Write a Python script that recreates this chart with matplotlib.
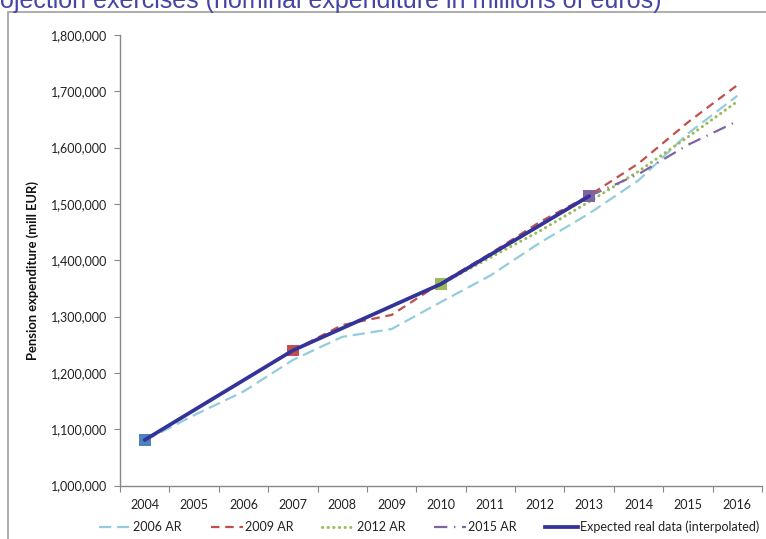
import numpy as np
import matplotlib
matplotlib.use("Agg")
import matplotlib.pyplot as plt
from matplotlib.lines import Line2D
from matplotlib.patches import Rectangle
from matplotlib.ticker import FuncFormatter

plt.rcParams['font.family'] = ['Lato', 'DejaVu Sans']

years = list(range(2004, 2017))
ar2006 = [1080000, 1125000, 1167000, 1223000, 1264000, 1278000, 1326000,
          1373000, 1431000, 1483000, 1542000, 1625000, 1692000]
ar2009_years = list(range(2007, 2017))
ar2009 = [1240000, 1285000, 1303000, 1360000, 1412000, 1468000, 1515000,
          1572000, 1645000, 1711000]
ar2012_years = list(range(2010, 2017))
ar2012 = [1358000, 1405000, 1452000, 1504000, 1558000, 1619000, 1682000]
ar2015_years = list(range(2013, 2017))
ar2015 = [1514000, 1553000, 1605000, 1647000]
real_years = [2004, 2007, 2010, 2013]
real = [1081000, 1240000, 1358000, 1514000]
marker_colors = ['#4F81BD', '#C0504D', '#9BBB59', '#8064A2']

series_labels = ['2006 AR', '2009 AR', '2012 AR', '2015 AR',
                 'Expected real data (interpolated)']
title = 'Projection exercises (nominal expenditure in millions of euros)'
ylabel = 'Pension expenditure (mill EUR)'

W, H = 766, 539
fig = plt.figure(figsize=(W / 100, H / 100), dpi=100)
ax = fig.add_axes([120 / W, 1 - 485.6 / H, (762 - 120) / W, (485.6 - 35) / H])

def xi(ys):
    return [y - 2004 for y in ys]

c06, c09, c12, c15, creal = '#93CDDD', '#C0504D', '#9BBB59', '#8064A2', '#333399'
st06 = dict(color=c06, lw=1.6, dashes=(5.5, 2.6))
st09 = dict(color=c09, lw=1.6, dashes=(3.8, 2.6))
st12 = dict(color=c12, lw=2.2, dashes=(0.05, 1.8), dash_capstyle='round')
st15 = dict(color=c15, lw=1.6, dashes=(6, 3, 0.6, 3))
streal = dict(color=creal, lw=2.7)

ax.plot(xi(years), ar2006, zorder=3, **st06)
ax.plot(xi(ar2009_years), ar2009, zorder=3, **st09)
ax.plot(xi(ar2012_years), ar2012, zorder=3, **st12)
ax.plot(xi(ar2015_years), ar2015, zorder=3, **st15)
ax.scatter(xi(real_years), real, marker='s', s=72, c=marker_colors,
           zorder=4, linewidths=0)
ax.plot(xi(real_years), real, zorder=5, solid_capstyle='round', **streal)

ax.set_xlim(-0.5, 12.5)
ax.set_ylim(1000000, 1800000)
ax.set_yticks(np.arange(1000000, 1800001, 100000))
ax.yaxis.set_major_formatter(FuncFormatter(lambda v, p: f'{int(v):,}'))
ax.set_xticks(np.arange(-0.5, 13, 1))
ax.set_xticklabels([])
ax.set_xticks(range(len(years)), minor=True)
ax.set_xticklabels([str(y) for y in years], minor=True)
ax.tick_params(axis='x', which='minor', length=0, pad=10, labelsize=9, labelcolor='#222222')
ax.tick_params(axis='x', which='major', length=4, color='#888888', direction='out')
ax.tick_params(axis='y', length=4, color='#888888', pad=5, labelsize=9, labelcolor='#222222')
for s in ['top', 'right']:
    ax.spines[s].set_visible(False)
for s in ['left', 'bottom']:
    ax.spines[s].set_color('#888888')
    ax.spines[s].set_linewidth(1.0)

fig.text(33 / W, 1 - 271 / H, ylabel, rotation=90, ha='center', va='center',
         fontsize=9.4, fontweight='bold', color='#111111')

fig.text(-25 / W, 1 - 8 / H, title, ha='left', va='baseline', fontsize=18,
         color='#4545A5', family=['Liberation Sans', 'DejaVu Sans'])

fig.patches.append(Rectangle((8 / W, -0.1), 1.2, 1 - 12 / H + 0.1,
                             transform=fig.transFigure, fill=False,
                             edgecolor='#A0A0A0', lw=1.2))

handles = [Line2D([], [], **st06), Line2D([], [], **st09),
           Line2D([], [], **st12), Line2D([], [], **st15),
           Line2D([], [], **streal)]
fig.legend(handles, series_labels, loc='center', ncol=5,
           bbox_to_anchor=(429 / W, 1 - 527 / H), frameon=False,
           fontsize=9, handlelength=2.6, handletextpad=0.15, columnspacing=2.3,
           labelcolor='#222222')

fig.savefig('out.png', dpi=100)
